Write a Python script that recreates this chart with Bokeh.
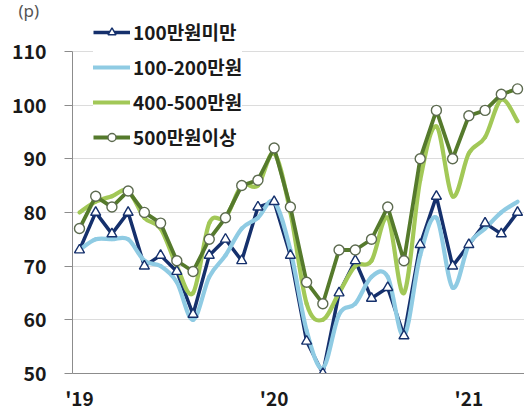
from bokeh.plotting import figure
from bokeh.models import Range1d, FixedTicker, Legend, LegendItem
from bokeh.embed import file_html
from bokeh.resources import INLINE

# Monthly index, Jan 2019 .. Apr 2021
months = list(range(28))
year_ticks = [0, 12, 24]
year_labels = ["'19", "'20", "'21"]
y_ticks = [50, 60, 70, 80, 90, 100, 110]

names = ["100만원미만", "100-200만원", "400-500만원", "500만원이상"]
under_100 = [73, 80, 76, 80, 70, 72, 69, 61, 72, 75, 71, 81, 82, 72, 56, 50,
             65, 71, 64, 66, 57, 74, 83, 70, 74, 78, 76, 80]
from_100_200 = [73, 75, 75, 75, 71, 70, 67, 60, 68, 72, 77, 79, 82, 73, 58, 51,
                61, 63, 68, 68, 57, 72, 79, 66, 74, 77, 80, 82]
from_400_500 = [80, 82, 83, 84, 79, 77, 70, 65, 78, 79, 85, 85, 91, 80, 63, 60,
                65, 70, 71, 79, 65, 86, 96, 83, 91, 94, 101, 97]
over_500 = [77, 83, 81, 84, 80, 78, 71, 69, 75, 79, 85, 86, 92, 81, 67, 63,
            73, 73, 75, 81, 71, 90, 99, 90, 98, 99, 102, 103]

NAVY = "#15306c"
SKY = "#8fcbe3"
LIME = "#a2c857"
OLIVE = "#557a2c"
FONT = "Noto Sans CJK KR"


def smooth_segments(xs, ys):
    """Catmull-Rom control points so each span becomes a cubic Bezier."""
    n = len(xs)
    out = dict(x0=[], y0=[], x1=[], y1=[], cx0=[], cy0=[], cx1=[], cy1=[])
    for i in range(n - 1):
        xa, ya = xs[max(i - 1, 0)], ys[max(i - 1, 0)]
        xb, yb = xs[i], ys[i]
        xc, yc = xs[i + 1], ys[i + 1]
        xd, yd = xs[min(i + 2, n - 1)], ys[min(i + 2, n - 1)]
        out["x0"].append(xb); out["y0"].append(yb)
        out["x1"].append(xc); out["y1"].append(yc)
        out["cx0"].append(xb + (xc - xa) / 6); out["cy0"].append(yb + (yc - ya) / 6)
        out["cx1"].append(xc - (xd - xb) / 6); out["cy1"].append(yc - (yd - yb) / 6)
    return out


# the frame reaches above the 110 line so the legend has room at the top
p = figure(width=524, height=414,
           x_range=Range1d(-0.43, 27.43), y_range=Range1d(50, 116.3),
           output_backend="svg", toolbar_location=None,
           min_border_left=72, min_border_right=0,
           min_border_top=15, min_border_bottom=41)
p.outline_line_color = None
p.background_fill_color = "white"

# unit marker in the top-left corner
p.title.text = "(p)"
p.title.align = "left"
p.title.offset = -58
p.title.padding = 4
p.title.standoff = -16
p.title.text_font = "Noto Sans"
p.title.text_font_style = "normal"
p.title.text_font_size = "17px"
p.title.text_color = "#555555"

# axes
p.yaxis.ticker = FixedTicker(ticks=y_ticks)
p.yaxis.bounds = (50, 110)
p.yaxis.minor_tick_line_color = None
p.yaxis.major_tick_out = 8
p.yaxis.major_tick_in = 0
p.yaxis.major_tick_line_color = "#8c8c8c"
p.yaxis.axis_line_color = "#8c8c8c"
p.yaxis.major_label_standoff = 18
p.yaxis.major_label_text_font = FONT
p.yaxis.major_label_text_font_style = "bold"
p.yaxis.major_label_text_font_size = "19.5px"
p.yaxis.major_label_text_color = "#1a1a1a"

p.xaxis.ticker = FixedTicker(ticks=year_ticks)
p.xaxis.major_label_overrides = {t: s for t, s in zip(year_ticks, year_labels)}
p.xaxis.minor_tick_line_color = None
p.xaxis.major_tick_line_color = None
p.xaxis.major_tick_out = 0
p.xaxis.major_tick_in = 0
p.xaxis.axis_line_color = "#8c8c8c"
p.xaxis.major_label_standoff = 10
p.xaxis.major_label_text_font = FONT
p.xaxis.major_label_text_font_style = "bold"
p.xaxis.major_label_text_font_size = "19px"
p.xaxis.major_label_text_color = "#1a1a1a"

p.xgrid.visible = False
p.ygrid.ticker = FixedTicker(ticks=y_ticks[1:])
p.ygrid.grid_line_color = "#dcdcdc"

# series
r_navy = p.line(months, under_100, line_color=NAVY, line_width=3.5, line_join="round")
r_sky = p.bezier(line_color=SKY, line_width=4.2, line_cap="round",
                 source=smooth_segments(months, from_100_200),
                 x0="x0", y0="y0", x1="x1", y1="y1",
                 cx0="cx0", cy0="cy0", cx1="cx1", cy1="cy1")
r_lime = p.bezier(line_color=LIME, line_width=4.2, line_cap="round",
                  source=smooth_segments(months, from_400_500),
                  x0="x0", y0="y0", x1="x1", y1="y1",
                  cx0="cx0", cy0="cy0", cx1="cx1", cy1="cy1")
r_olive = p.line(months, over_500, line_color=OLIVE, line_width=3.8, line_join="round")
m_navy = p.scatter(months, under_100, marker="triangle", size=10,
                   fill_color="white", line_color=NAVY, line_width=1.4)
m_olive = p.scatter(months, over_500, marker="circle", size=10,
                    fill_color="white", line_color="#5d6b50", line_width=1.4)

legend = Legend(items=[
    LegendItem(label=names[0], renderers=[r_navy, m_navy]),
    LegendItem(label=names[1], renderers=[r_sky]),
    LegendItem(label=names[2], renderers=[r_lime]),
    LegendItem(label=names[3], renderers=[r_olive, m_olive]),
], location=(21, 223))
legend.padding = 0
legend.margin = 0
legend.spacing = 8
legend.glyph_width = 37
legend.glyph_height = 20
legend.label_height = 20
legend.label_standoff = 3
legend.border_line_color = None
legend.background_fill_color = "white"
legend.background_fill_alpha = 1
legend.label_text_font = FONT
legend.label_text_font_style = "bold"
legend.label_text_font_size = "19px"
legend.label_text_color = "#1a1a1a"
p.add_layout(legend)

open("out.html", "w").write(file_html(p, INLINE))
